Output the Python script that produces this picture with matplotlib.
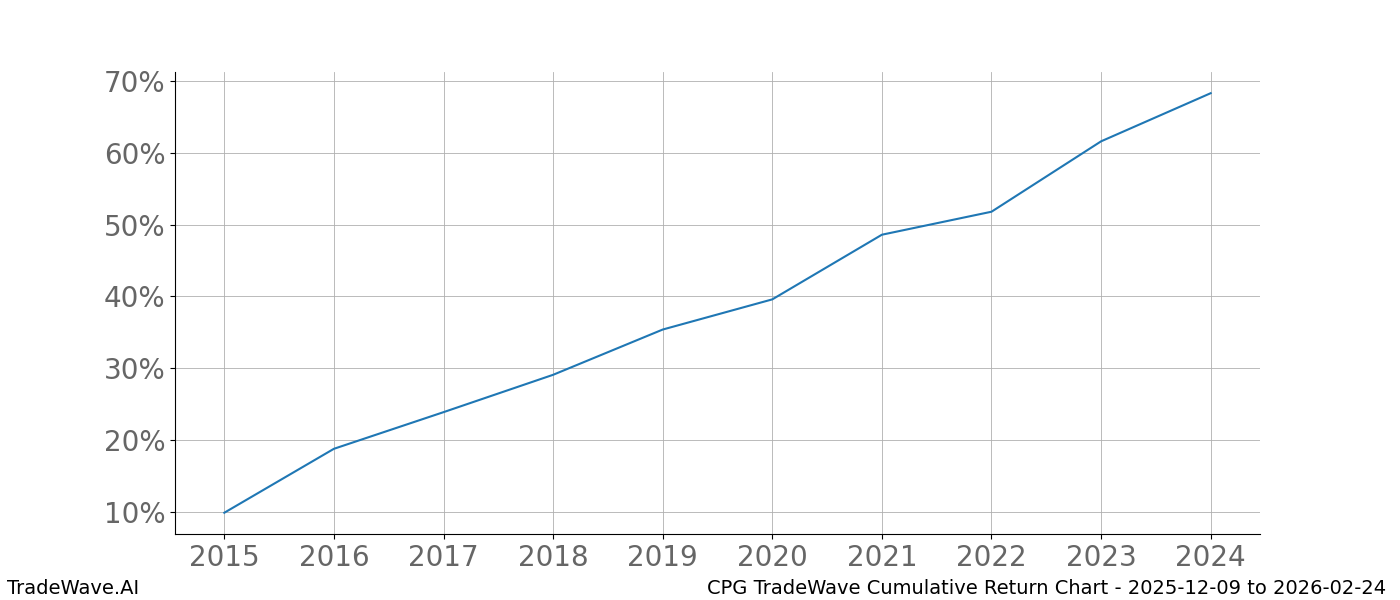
import matplotlib
matplotlib.use("Agg")
import matplotlib.pyplot as plt
from matplotlib.ticker import FuncFormatter

years = [2015, 2016, 2017, 2018, 2019, 2020, 2021, 2022, 2023, 2024]
returns = [9.9, 18.8, 23.9, 29.1, 35.4, 39.6, 48.6, 51.8, 61.6, 68.3]

fig = plt.figure(figsize=(14, 6), dpi=100)
ax = fig.add_axes([0.125, 0.11, 0.775, 0.77])
ax.plot(years, returns, color="#1f77b4", linewidth=1.5)

ax.set_xlim(2014.55, 2024.45)
ax.set_ylim(6.94, 71.25)
ax.set_xticks(years)
ax.set_yticks([10, 20, 30, 40, 50, 60, 70])
ax.yaxis.set_major_formatter(FuncFormatter(lambda v, p: f"{v:.0f}%"))
ax.tick_params(labelsize=20, labelcolor="#666666")
ax.grid(True, color="#b0b0b0", linewidth=0.6)
ax.spines["top"].set_visible(False)
ax.spines["right"].set_visible(False)

fig.text(0.005, 0.01, "TradeWave.AI", fontsize=14)
fig.text(0.99, 0.01, "CPG TradeWave Cumulative Return Chart - 2025-12-09 to 2026-02-24",
         fontsize=14, ha="right")

fig.savefig("out.png")
